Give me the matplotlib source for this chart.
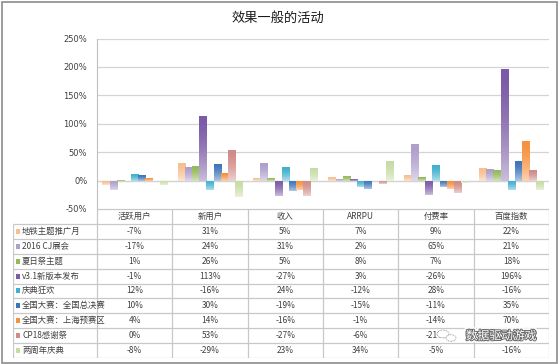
import numpy as np
import matplotlib
matplotlib.use("Agg")
import matplotlib.pyplot as plt
import matplotlib.patheffects as pe
from matplotlib.colors import to_rgb
from matplotlib.patches import Rectangle, Circle

plt.rcParams['font.family'] = ['Noto Sans CJK SC', 'DejaVu Sans']

title = "效果一般的活动"
categories = ["活跃用户", "新用户", "收入", "ARRPU", "付费率", "百度指数"]
series = ["地铁主题推广月", "2016 CJ展会", "夏日祭主题", "v3.1新版本发布", "庆典狂欢",
          "全国大赛：全国总决赛", "全国大赛：上海预赛区", "CP18感谢祭", "两周年庆典"]
# values in %, one list per series, order = categories
subway = [-7, 31, 5, 7, 9, 22]
cj2016 = [-17, 24, 31, 2, 65, 21]
summer = [1, 26, 5, 8, 7, 18]
v31 = [-1, 113, -27, 3, -26, 196]
carnival = [12, -16, 24, -12, 28, -16]
final = [10, 30, -19, -15, -11, 35]
shanghai = [4, 14, -16, -1, -14, 70]
cp18 = [0, 53, -27, -6, -21, 18]
anniv = [-8, -29, 23, 34, -5, -16]
values = [subway, cj2016, summer, v31, carnival, final, shanghai, cp18, anniv]
colors = ["#F9BE8E", "#AE9FCB", "#94BA58", "#7B5BA6", "#3FB0CF",
          "#3D75BA", "#F7913D", "#D08B88", "#C7DCA4"]
yticks = [-50, 0, 50, 100, 150, 200, 250]

W, H = 558, 364
fig = plt.figure(figsize=(W / 100, H / 100), dpi=100)
fig.patches.append(Rectangle((1.5 / W, 1.5 / H), (W - 3) / W, (H - 3) / H,
                             transform=fig.transFigure, fill=False,
                             edgecolor="#8C8C8C", lw=1.2))

# plot area in pixels
px0, px1 = 97, 549
py_top, py_bot = 38.5, 209
ax = fig.add_axes([px0 / W, 1 - py_bot / H, (px1 - px0) / W, (py_bot - py_top) / H])
n = len(series)
group = 9 / 10.5
bw = group / n
x = np.arange(len(categories))

for i, (vals, c) in enumerate(zip(values, colors)):
    xs = x - group / 2 + bw * (i + 0.5)
    bars = ax.bar(xs, vals, width=bw, color=c, zorder=2)
    base = np.array(to_rgb(c))
    t = np.linspace(0, 1, 64)[:, None] ** 1.6
    grad = base * (1 - t * 0.6) + np.ones(3) * t * 0.6
    grad = grad[:, None, :]
    for b in bars:
        bx, by = b.get_x(), b.get_y()
        bh = b.get_height()
        if bh == 0:
            continue
        ylo, yhi = min(by, by + bh), max(by, by + bh)
        im = ax.imshow(grad, extent=(bx, bx + bw, ylo, yhi), origin="upper",
                       aspect="auto", zorder=3, interpolation="bilinear")
        im.set_clip_path(b)
ax.set_xlim(-0.5, len(categories) - 0.5)
ax.set_ylim(-50, 250)

ax.set_yticks(yticks)
ax.set_yticklabels([f"{v}%" for v in yticks], fontsize=6, color="#404040",
                   family=['DejaVu Sans'])
ax.tick_params(axis="y", length=0, pad=7)
ax.set_xticks([])
ax.grid(axis="y", color="#D4D4D4", lw=0.9, zorder=0)
for s in ["top", "right", "bottom"]:
    ax.spines[s].set_visible(False)
ax.spines["left"].set_color("#BFBFBF")
ax.axhline(0, color="#D4D4D4", lw=0.9, zorder=1)

fig.text(278 / W, 1 - 18 / H, title, ha="center", va="center", fontsize=9.5,
         color="#1a1a1a")

# data table
tx0, ty0, ty1 = 13, 209, 358
cw = (px1 - px0) / len(categories)
lab_w = (px0 - tx0) / cw
tax = fig.add_axes([tx0 / W, 1 - ty1 / H, (px1 - tx0) / W, (ty1 - ty0) / H])
tax.set_xlim(-0.5 - lab_w, len(categories) - 0.5)
nrows = n + 1
tax.set_ylim(nrows, 0)
tax.axis("off")
lc = "#C8C8C8"
tax.hlines(np.arange(0, nrows + 1), -0.5, len(categories) - 0.5, color=lc, lw=0.9)
tax.hlines(np.arange(1, nrows + 1), -0.5 - lab_w, -0.5, color=lc, lw=0.9)
tax.vlines(np.arange(len(categories) + 1) - 0.5, 0, nrows, color=lc, lw=0.9)
tax.vlines(-0.5 - lab_w, 1, nrows, color=lc, lw=0.9)
for j, cat in enumerate(categories):
    tax.text(j, 0.5, cat, ha="center", va="center", fontsize=6, color="#404040")
for i, (name, vals, c) in enumerate(zip(series, values, colors)):
    r = i + 1.5
    tax.add_patch(Rectangle((-0.5 - lab_w + 0.045, r - 0.17), 0.045, 0.34,
                            color=c, lw=0))
    tax.text(-0.5 - lab_w + 0.12, r, name, ha="left", va="center", fontsize=6,
             color="#404040")
    for j, v in enumerate(vals):
        tax.text(j, r, f"{v}%", ha="center", va="center", fontsize=6,
                 color="#404040")

# watermark
wm = fig.text(501 / W, 1 - 336 / H, "数据驱动游戏", ha="center", va="center",
              fontsize=8.5, color="white")
wm.set_path_effects([pe.Stroke(linewidth=4, foreground=(1, 1, 1, 0.85)),
                     pe.Stroke(linewidth=1.4, foreground="#6a6a6a"),
                     pe.Normal()])
for cx, cy, rr in [(443, 334, 6), (451, 338, 5)]:
    fig.patches.append(Circle((cx / W, 1 - cy / H), rr / W,
                              transform=fig.transFigure, facecolor="white",
                              edgecolor="#888888", lw=0.6, ls=(0, (1, 1))))

fig.savefig("out.png", dpi=100)
